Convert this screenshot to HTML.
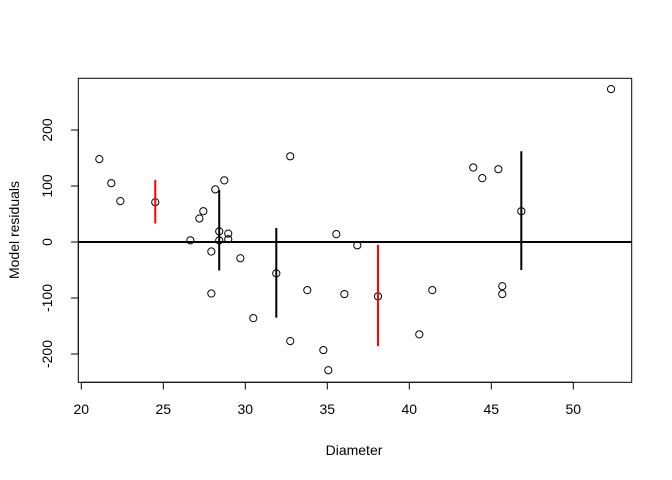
<!DOCTYPE html>
<html><head><meta charset="utf-8"><style>
html,body{margin:0;padding:0;background:#fff;}
svg{display:block;font-family:"Liberation Sans",Arial,sans-serif;}
</style></head><body>
<svg id="chart" width="672" height="480" viewBox="0 0 672 480">
<rect x="78.3" y="78.3" width="553.4" height="304" fill="none" stroke="#000" stroke-width="1"/>
<g id="axes"></g>
<g id="marks"></g>
<text x="354" y="455" text-anchor="middle" font-size="14">Diameter</text>
<text transform="translate(19,230) rotate(-90)" text-anchor="middle" font-size="14">Model residuals</text>
</svg>
<script>
const diameters=[21.1,21.83,22.38,24.51,26.65,27.2,27.44,27.93,27.93,28.17,28.41,28.41,28.72,28.96,28.96,29.7,30.49,31.89,32.74,32.74,33.78,34.76,35.06,35.55,36.04,36.83,38.09,40.61,41.4,43.9,44.45,45.43,45.67,45.67,46.83,52.3];
const residuals=[148,105,73,71,3,42,55,-17,-92,94,19,3,110,15,5,-29,-136,-56,153,-177,-86,-193,-229,14,-93,-6,-97,-165,-86,133,114,130,-79,-93,55,273];
const barX=[24.51,28.41,31.89,38.09,46.83];
const barLow=[33,-51,-135,-186,-50];
const barHigh=[111,93,25,-5,162];
const barColors=["red","black","black","red","black"];
const xTicks=[20,25,30,35,40,45,50];
const yTicks=[-200,-100,0,100,200];
const ns="http://www.w3.org/2000/svg";
const xs=v=>81.3+(v-20)*16.4;
const ys=v=>242-v*0.56;
function mk(tag,attrs,parent){const e=document.createElementNS(ns,tag);for(const k in attrs)e.setAttribute(k,attrs[k]);parent.appendChild(e);return e;}
const axes=document.getElementById('axes'),marks=document.getElementById('marks');
mk('line',{x1:xs(20),x2:xs(50),y1:382.3,y2:382.3,stroke:'#000'},axes);
xTicks.forEach(t=>{
 const l=mk('line',{x1:xs(t),x2:xs(t),y1:382.3,y2:389.5,stroke:'#000'},axes);
 
 
 const tx=mk('text',{x:xs(t),y:414,'text-anchor':'middle','font-size':14},axes);tx.textContent=t;
 
 
});
mk('line',{x1:78.3,x2:78.3,y1:ys(-200),y2:ys(200),stroke:'#000'},axes);
yTicks.forEach(t=>{
 const l=mk('line',{x1:71,x2:78.3,y1:ys(t),y2:ys(t),stroke:'#000'},axes);
 
 
 const tx=mk('text',{transform:`translate(52,${ys(t)}) rotate(-90)`,'text-anchor':'middle','font-size':14},axes);tx.textContent=t;
 
 
});
const zl=mk('line',{x1:78.3,x2:631.7,y1:ys(0),y2:ys(0),stroke:'#000','stroke-width':2},marks);


diameters.forEach((d,i)=>{
 const c=mk('circle',{cx:xs(d),cy:ys(residuals[i]),r:3.6,fill:'none',stroke:'#000','stroke-width':1},marks);
 
 
});
barX.forEach((x,i)=>{
 const b=mk('line',{x1:xs(x),x2:xs(x),y1:ys(barLow[i]),y2:ys(barHigh[i]),stroke:barColors[i],'stroke-width':2},marks);
 
 
});
</script>
</body></html>
